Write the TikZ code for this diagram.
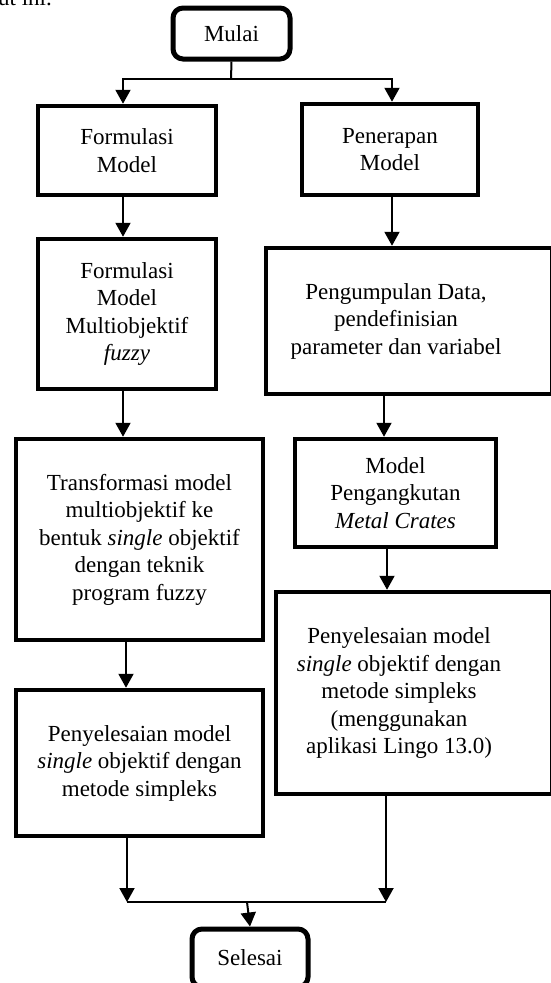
\documentclass[tikz,border=0pt]{standalone}
\usepackage{fontspec}
\setmainfont{Liberation Serif}
\usetikzlibrary{arrows.meta}
\tikzset{
  fnt/.style={font=\fontsize{23}{27.5}\selectfont},
  box/.style={draw, line width=4.5pt, rectangle, align=center, inner sep=0pt, fnt},
  term/.style={draw, line width=5pt, rounded corners=10pt, align=center, inner sep=0pt, fnt},
  txt/.style={align=center, inner sep=0pt, fnt},
  conn/.style={line width=2pt},
  arr/.style={conn, -{Triangle[width=15pt,length=14pt]}},
}
\begin{document}
\begin{tikzpicture}[x=1pt,y=-1pt]
\useasboundingbox (0,0) rectangle (551,983);
% partial text at the top
\node[txt, anchor=base east] (intro) at (52,5) {berikut ini.};
% terminals
\node[term, minimum width=117pt, minimum height=51pt] (mulai) at (231.5,33.5) {Mulai};
\node[term, minimum width=116pt, minimum height=58pt] (selesai) at (250,958) {Selesai};
% left column
\node[box, minimum width=178pt, minimum height=89pt] (fm) at (127,150.5) {Formulasi\\Model};
\node[box, minimum width=178pt, minimum height=150pt] (fmm) at (127,314) {Formulasi\\Model\\Multiobjektif\\\textit{fuzzy}};
\node[box, minimum width=247pt, minimum height=201pt] (tr) at (139.5,539.5) {Transformasi model\\multiobjektif ke\\bentuk \textit{single} objektif\\dengan teknik\\program fuzzy};
\node[box, minimum width=247pt, minimum height=146pt] (pl) at (139.5,763) {Penyelesaian model\\\textit{single} objektif dengan\\metode simpleks};
% right column
\node[box, minimum width=176pt, minimum height=91pt] (pm) at (390,149.5) {Penerapan\\Model};
\node[box, minimum width=286pt, minimum height=146pt] (pd) at (409,321) {};
\node[txt] (pdt) at (396,321) {Pengumpulan Data,\\pendefinisian\\parameter dan variabel};
\node[box, minimum width=201pt, minimum height=108pt] (mp) at (395.5,493) {Model\\Pengangkutan\\\textit{Metal Crates}};
\node[box, minimum width=276pt, minimum height=202pt] (pr) at (414,693) {};
\node[txt] (prt) at (399,693) {Penyelesaian model\\\textit{single} objektif dengan\\metode simpleks\\(menggunakan\\aplikasi Lingo 13.0)};
% columns
\coordinate (cL1) at (123,0);
\coordinate (cL2) at (126,0);
\coordinate (cL3) at (127,0);
\coordinate (cR1) at (392,0);
\coordinate (cR2) at (384,0);
\coordinate (cR3) at (387,0);
\coordinate (cR4) at (386,0);
\coordinate (split) at (231,79);
\coordinate (merge) at (247,902);
% connectors
\draw[conn] (mulai.south) -- (split);
\draw[arr] (split) -| (fm.north -| cL1);
\draw[arr] (split) -| (pm.north -| cR1);
\draw[arr] (fm.south -| cL1) -- (fmm.north -| cL1);
\draw[arr] (fmm.south -| cL1) -- (tr.north -| cL1);
\draw[arr] (tr.south -| cL2) -- (pl.north -| cL2);
\draw[arr] (pm.south -| cR1) -- (pd.north -| cR1);
\draw[arr] (pd.south -| cR2) -- (mp.north -| cR2);
\draw[arr] (mp.south -| cR3) -- (pr.north -| cR3);
\draw[arr] (pl.south -| cL3) -- (cL3 |- merge);
\draw[arr] (pr.south -| cR4) -- (cR4 |- merge);
\draw[conn] (cL3 |- merge) -- (cR4 |- merge);
\draw[arr] (merge) -- (selesai.north);
\end{tikzpicture}
\end{document}
